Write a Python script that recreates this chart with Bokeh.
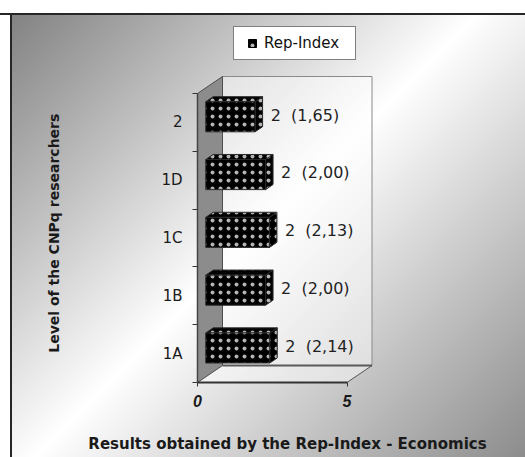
import numpy as np
from bokeh.plotting import figure
from bokeh.models import (ColumnDataSource, FixedTicker, Range1d, Legend,
                          LegendItem)
from bokeh.transform import dodge
from bokeh.embed import file_html
from bokeh.resources import INLINE
from bokeh.core.properties import value

# ---- data -------------------------------------------------------------
levels = ["1A", "1B", "1C", "1D", "2"]          # bottom to top
rep_index = [2.14, 2.00, 2.13, 2.00, 1.65]
x_ticks = [0, 5]
series_name = "Rep-Index"
x_title = "Results obtained by the Rep-Index - Economics"
y_title = "Level of the CNPq researchers"

# ---- layout (pixels) --------------------------------------------------
W, H = 525, 457
LEFT, RIGHT, TOP, BOTTOM = 197, 377, 20, 382    # plot frame edges
PX_X = 29.9          # pixels per index unit
PX_Y = 57.8          # pixels per level band
DEPTH_PX = (25, 17)  # 3-D depth vector (right, up)

n = len(levels)
xmax = x_ticks[-1]
DX = DEPTH_PX[0] / PX_X
DY = DEPTH_PX[1] / PX_Y
T0, T1 = 0.33, 0.63      # bar depth slot (fraction of full depth)
BAR_H = 0.52             # bar thickness in level bands
LABEL_GAP = 0.27

pos = [i + 0.5 for i in range(n)]
NB = "\u00a0"
labels = [f"{v:.0f}{NB}{NB}({v:.2f})".replace(".", ",") for v in rep_index]

src = ColumnDataSource(dict(level=levels, val=rep_index, pos=pos, label=labels))

# top and side faces of the 3-D bars
top_xs, top_ys, side_xs, side_ys = [], [], [], []
for v, c in zip(rep_index, pos):
    yt = c + BAR_H / 2
    yb = c - BAR_H / 2
    top_xs.append([T0 * DX, v + T0 * DX, v + T1 * DX, T1 * DX])
    top_ys.append([yt + T0 * DY, yt + T0 * DY, yt + T1 * DY, yt + T1 * DY])
    side_xs.append([v + T0 * DX, v + T1 * DX, v + T1 * DX, v + T0 * DX])
    side_ys.append([yb + T0 * DY, yb + T1 * DY, yt + T1 * DY, yt + T0 * DY])
faces = ColumnDataSource(dict(txs=top_xs, tys=top_ys, sxs=side_xs, sys=side_ys))

p = figure(width=W, height=H,
           x_range=Range1d(0, (RIGHT - LEFT) / PX_X),
           y_range=Range1d(0, (BOTTOM - TOP) / PX_Y),
           output_backend="svg", toolbar_location=None,
           min_border_left=LEFT, min_border_right=W - RIGHT,
           min_border_top=TOP, min_border_bottom=H - BOTTOM)
p.outline_line_color = None
p.background_fill_alpha = 0
p.border_fill_alpha = 0
p.xgrid.visible = False
p.ygrid.visible = False

# chart-area backdrop: dark frame on the top/left edges, diagonal
# grey -> white -> grey shading inside
p.styles = {
    "background-color": "white",
    "background-image": (
        "linear-gradient(to bottom, #ffffff 0px, #ffffff 13px, #262626 13px, "
        "#262626 15px, rgba(255,255,255,0) 15px), "
        "linear-gradient(to right, #ffffff 0px, #ffffff 10px, #262626 10px, "
        "#262626 12px, rgba(255,255,255,0) 12px), "
        "linear-gradient(135deg, #7b7b7b 0%, #ffffff 50%, #8c8c8c 100%)"
    ),
}

hatch = dict(hatch_pattern="dot", hatch_color="white", hatch_scale=8,
             hatch_weight=0.5, hatch_alpha=0.7)

# back wall, side wall and floor
p.patch([DX, xmax + DX, xmax + DX, DX], [DY, DY, n + DY, n + DY],
        fill_color="white", fill_alpha=0.45, line_color="#8a8a8a", line_width=1)
p.patch([0, xmax, xmax + DX, DX], [0, 0, DY, DY],
        fill_color="white", fill_alpha=0.45, line_color=None)
p.patch([0, DX, DX, 0], [0, DY, n + DY, n],
        fill_color="#8c8c8c", line_color="#4d4d4d", line_width=1)
p.line([DX, xmax + DX], [DY, DY], line_color="#5a5a5a", line_width=2)
p.line([xmax, xmax + DX], [0, DY], line_color="#555555", line_width=1)

# bars
p.patches("sxs", "sys", source=faces, fill_color="black",
          line_color="#2b2b2b", line_width=1, **hatch)
p.patches("txs", "tys", source=faces, fill_color="black",
          line_color="#2b2b2b", line_width=1, **hatch)
bars = p.hbar(y=dodge("pos", T0 * DY), left=T0 * DX, right=dodge("val", T0 * DX),
              height=BAR_H, source=src, fill_color="black",
              line_color="#2b2b2b", line_width=1, **hatch)

# value labels
p.text(x=dodge("val", T1 * DX + LABEL_GAP), y=dodge("pos", T0 * DY + 0.03),
       text="label", source=src, text_font=value("DejaVu Sans"),
       text_font_size="16px", text_baseline="middle", text_color="#1f1f1f")

# x axis
xa = p.xaxis[0]
xa.ticker = FixedTicker(ticks=x_ticks)
xa.bounds = (0, xmax)
xa.major_tick_out = 4
xa.major_tick_in = 0
xa.minor_tick_out = 0
xa.axis_line_width = 2
xa.axis_line_color = "#333333"
xa.major_tick_line_color = "#333333"
xa.major_label_text_font = "Liberation Sans"
xa.major_label_text_font_style = "bold italic"
xa.major_label_text_font_size = "16px"
xa.major_label_text_color = "#1a1a1a"
xa.major_label_standoff = 8
xa.axis_label = x_title
xa.axis_label_text_font = "DejaVu Sans"
xa.axis_label_text_font_style = "bold"
xa.axis_label_text_font_size = "15px"
xa.axis_label_text_color = "#1a1a1a"
xa.axis_label_standoff = 25

# y axis: labels centred in each band, ticks on the band boundaries
ya = p.yaxis[0]
ya.ticker = FixedTicker(ticks=pos, minor_ticks=list(range(n + 1)))
ya.bounds = (0, n)
ya.major_tick_out = 0
ya.major_tick_in = 0
ya.minor_tick_out = 5
ya.minor_tick_in = 0
ya.minor_tick_line_color = "#333333"
ya.axis_line_color = "#444444"
ya.axis_line_width = 1.5
ya.major_label_overrides = {c: lvl for c, lvl in zip(pos, levels)}
ya.major_label_text_font = "DejaVu Sans"
ya.major_label_text_font_size = "15px"
ya.major_label_text_color = "#1a1a1a"
ya.major_label_standoff = 10
# title sits lower than the frame centre: pad its upper end
ya.axis_label = y_title + NB * 13
ya.axis_label_text_font = "DejaVu Sans"
ya.axis_label_text_font_style = "bold"
ya.axis_label_text_font_size = "14px"
ya.axis_label_text_color = "#1a1a1a"
ya.axis_label_standoff = 96

# legend key: a square marker sharing the bar style (not drawn on the plot)
key = p.scatter(x="val", y="pos", source=src, marker="square", size=8,
                fill_color="black", line_color="black", visible=False, **hatch)
legend = Legend(items=[LegendItem(label=series_name, renderers=[key])],
                location=(36, 322), glyph_width=24, glyph_height=20,
                label_standoff=0, padding=6, spacing=0, margin=0,
                label_width=85, label_height=20,
                border_line_color="black", border_line_width=1,
                background_fill_color="white", background_fill_alpha=1,
                label_text_font="DejaVu Sans", label_text_font_size="15px",
                label_text_color="#111111")
p.add_layout(legend)

open("out.html", "w").write(file_html(p, INLINE))
